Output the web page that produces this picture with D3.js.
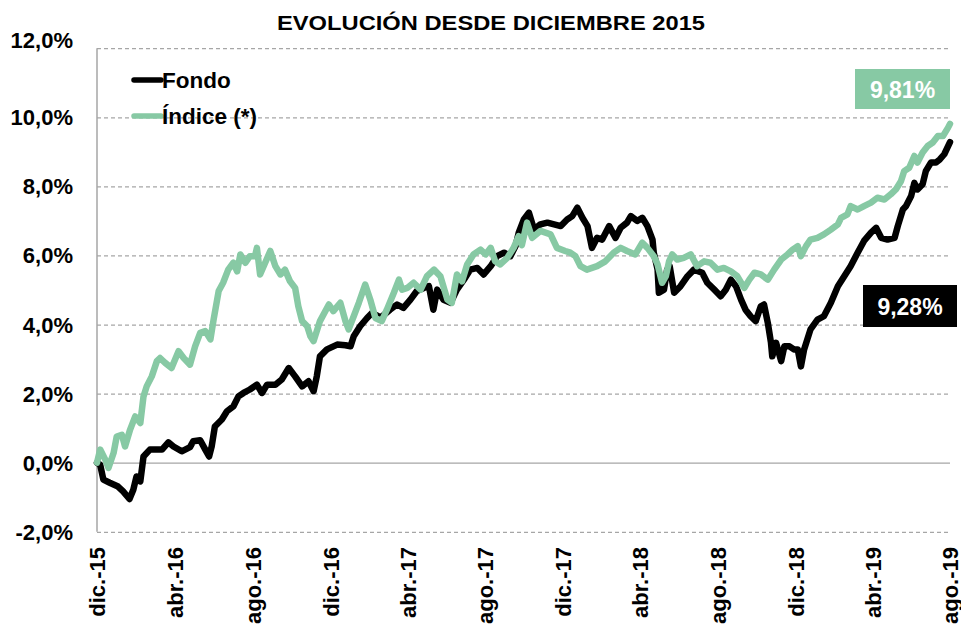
<!DOCTYPE html>
<html>
<head>
<meta charset="utf-8">
<script src="https://cdn.jsdelivr.net/npm/d3@7"></script>
<style>
  body { margin: 0; background: #fff; }
  text { font-family: Arial, "Liberation Sans", sans-serif; font-weight: bold; }
</style>
</head>
<body>
<script>
//series start date, every point is a day offset from here
const startDate = new Date(2015, 11, 1)
const endDate = new Date(2019, 7, 1)

//Fondo (black line)
const fondoDays = [0,5,10,20,33,41,51,57,62,68,73,83,94,102,112,120,133,146,151,162,170,176,180,185,196,204,214,222,230,240,251,259,267,280,290,301,311,322,332,340,345,350,361,377,390,398,403,413,424,432,445,460,471,481,492,502,513,521,528,534,544,555,565,576,586,597,607,618,628,639,649,657,662,670,678,686,696,707,728,738,746,754,762,770,777,785,793,804,814,822,832,838,848,856,864,872,874,880,882,890,895,899,906,916,927,937,950,958,969,979,987,995,1003,1011,1018,1026,1034,1042,1047,1053,1058,1060,1066,1074,1079,1087,1094,1100,1105,1110,1120,1131,1141,1152,1163,1173,1183,1194,1204,1215,1223,1231,1241,1252,1257,1265,1270,1278,1283,1288,1296,1301,1309,1317,1323,1330,1339]
const fondoValues = [0,-0.06,-0.49,-0.58,-0.69,-0.83,-1.05,-0.78,-0.40,-0.54,0.18,0.38,0.38,0.38,0.59,0.47,0.33,0.45,0.62,0.65,0.38,0.18,0.47,1.05,1.25,1.49,1.63,1.92,2.02,2.12,2.26,2.02,2.26,2.26,2.41,2.74,2.50,2.21,2.36,2.07,2.50,3.08,3.28,3.42,3.40,3.37,3.66,3.95,4.19,4.34,4.20,4.43,4.58,4.48,4.72,4.97,5.06,5.11,4.43,5.01,4.72,4.63,5.01,5.30,5.59,5.64,5.45,5.69,5.98,6.08,5.98,6.27,6.66,7.04,7.24,6.75,6.90,6.95,6.85,7.04,7.14,7.38,7.09,6.85,6.22,6.51,6.46,6.85,6.51,6.80,6.95,7.14,7.00,7.09,6.85,6.46,6.08,5.59,4.92,5.01,5.59,5.69,4.92,5.11,5.40,5.59,5.50,5.21,5.01,4.82,5.01,5.30,5.11,4.72,4.43,4.24,4.10,4.53,4.58,4.05,3.47,3.08,3.47,2.94,3.37,3.37,3.28,3.28,2.79,3.28,3.86,4.14,4.24,4.63,5.11,5.40,5.69,6.08,6.42,6.66,6.80,6.51,6.46,6.51,6.85,7.33,7.43,7.72,8.10,7.91,8.06,8.44,8.69,8.69,8.78,8.93,9.28]

//Indice (green line)
const indiceDays = [0,5,13,18,26,31,39,44,52,60,68,73,78,86,94,99,107,117,128,136,146,154,162,170,178,183,191,198,206,214,220,225,233,240,248,251,256,264,272,280,288,295,303,311,316,322,330,335,340,350,364,371,382,390,395,403,411,421,429,437,447,455,466,474,479,487,497,508,518,529,539,550,557,565,573,581,591,602,610,618,625,633,644,654,662,667,675,683,696,712,722,735,743,751,759,769,785,798,811,822,832,845,856,864,874,880,887,893,898,903,911,921,932,942,953,963,974,984,995,1005,1016,1024,1032,1042,1053,1063,1074,1084,1092,1100,1105,1113,1120,1131,1141,1152,1163,1168,1178,1183,1194,1204,1215,1225,1236,1246,1254,1262,1267,1275,1283,1288,1296,1304,1312,1320,1328,1336,1339]
const indiceValues = [0,0.38,0.09,-0.15,0.28,0.76,0.81,0.47,0.96,1.34,1.15,1.92,2.21,2.50,2.94,3.03,2.89,2.74,3.23,3.03,2.84,3.37,3.76,3.81,3.57,4.14,4.97,5.21,5.59,5.79,5.54,6.03,5.79,5.98,5.98,6.22,5.45,5.79,6.13,5.69,5.45,5.59,5.25,5.06,4.53,4.10,3.95,3.66,3.52,4.10,4.58,4.39,4.63,4.10,3.86,4.24,4.63,5.16,4.72,4.19,4.10,4.43,4.92,5.30,5.01,5.06,5.21,5.01,5.40,5.59,5.40,4.72,4.63,5.45,5.25,5.74,6.03,6.17,6.03,6.22,5.83,5.74,5.93,6.22,6.56,6.30,6.95,6.51,6.71,6.61,6.22,6.13,6.08,5.98,5.69,5.59,5.69,5.83,6.08,6.22,6.13,6.03,6.37,6.22,5.98,5.74,5.21,5.40,5.83,6.03,5.88,5.93,6.03,5.69,5.83,5.79,5.59,5.64,5.54,5.40,5.06,5.30,5.50,5.45,5.30,5.59,5.88,6.03,6.17,6.27,5.98,6.27,6.46,6.51,6.61,6.75,6.90,7.09,7.19,7.43,7.33,7.43,7.53,7.67,7.62,7.77,7.91,8.15,8.44,8.54,8.88,8.69,8.98,9.17,9.27,9.46,9.46,9.70,9.81]

//axis ticks
const yTicks = [-2, 0, 2, 4, 6, 8, 10, 12]
const xTickDates = ['2015-12-01','2016-04-01','2016-08-01','2016-12-01','2017-04-01','2017-08-01','2017-12-01','2018-04-01','2018-08-01','2018-12-01','2019-04-01','2019-08-01']
const xTickLabels = ['dic.-15','abr.-16','ago.-16','dic.-16','abr.-17','ago.-17','dic.-17','abr.-18','ago.-18','dic.-18','abr.-19','ago.-19']

const seriesNames = ['Fondo', 'Índice (*)']
const endLabels = ['9,28%', '9,81%']

const black = '#000000'
const green = '#87c9a4'
const grid = '#a6a6a6'

render()

function render() {
  const width = 961
  const height = 626

  const svg = d3.select('body')
    .append('svg')
    .attr('width', width)
    .attr('height', height)

  //plot area
  const left = 97, right = 950, top = 48.2, bottom = 531.8

  const xScale = d3.scaleTime()
    .domain([startDate, endDate])
    .range([left, right])

  const yScale = d3.scaleLinear()
    .domain([-2, 12])
    .range([bottom, top])

  const parse = d3.timeParse('%Y-%m-%d')

  //title
  svg.append('text')
    .text('EVOLUCIÓN DESDE DICIEMBRE 2015')
    .attr('x', 491)
    .attr('y', 30)
    .attr('text-anchor', 'middle')
    .attr('font-size', 20)
    .attr('textLength', 428)
    .attr('lengthAdjust', 'spacingAndGlyphs')

  //y axis with gridlines
  const yAxis = d3.axisLeft(yScale)
    .tickValues(yTicks)
    .tickSize(-(right - left))
    .tickPadding(24)
    .tickFormat(d => d.toFixed(1).replace('.', ',') + '%')

  const gy = svg.append('g')
    .attr('transform', `translate(${left},0)`)
    .call(yAxis)
  gy.select('.domain').remove()
  gy.selectAll('.tick line')
    .attr('stroke', grid)
    .attr('stroke-width', 1.3)
    .attr('stroke-dasharray', d => d === 0 ? null : '4,3')
  gy.selectAll('.tick text')
    .attr('font-size', 22)
    .attr('font-family', 'Arial, "Liberation Sans", sans-serif')
    .attr('fill', '#000')
    .attr('dy', d => d === 12 ? '-0.05em' : '0.34em')

  //left axis line
  svg.append('line')
    .attr('x1', left).attr('x2', left)
    .attr('y1', top).attr('y2', bottom)
    .attr('stroke', grid)
    .attr('stroke-width', 1.5)

  //x axis labels, rotated
  const xAxis = d3.axisBottom(xScale)
    .tickValues(xTickDates.map(parse))
    .tickSize(0)
    .tickFormat((d, i) => xTickLabels[i])

  const gx = svg.append('g')
    .attr('transform', `translate(0,547)`)
    .call(xAxis)
  gx.select('.domain').remove()
  gx.selectAll('.tick text')
    .attr('font-size', 22)
    .attr('font-family', 'Arial, "Liberation Sans", sans-serif')
    .attr('fill', '#000')
    .attr('text-anchor', 'end')
    .attr('x', 0)
    .attr('y', 0)
    .attr('dy', '0.36em')
    .attr('transform', 'rotate(-90)')

  //lines
  const toPoints = (days, values) => days.map((d, i) => ({
    date: d3.timeDay.offset(startDate, d),
    value: values[i]
  }))

  const line = d3.line()
    .x(d => xScale(d.date))
    .y(d => yScale(d.value))

  svg.append('path')
    .datum(toPoints(fondoDays, fondoValues))
    .attr('d', line)
    .attr('fill', 'none')
    .attr('stroke', black)
    .attr('stroke-width', 6.5)
    .attr('stroke-linejoin', 'round')
    .attr('stroke-linecap', 'round')

  svg.append('path')
    .datum(toPoints(indiceDays, indiceValues))
    .attr('d', line)
    .attr('fill', 'none')
    .attr('stroke', green)
    .attr('stroke-width', 6.5)
    .attr('stroke-linejoin', 'round')
    .attr('stroke-linecap', 'round')

  //legend
  const legend = svg.append('g')
  const legendY = [80, 116]
  const legendColors = [black, green]
  seriesNames.forEach((name, i) => {
    legend.append('line')
      .attr('x1', 134).attr('x2', 161)
      .attr('y1', legendY[i]).attr('y2', legendY[i])
      .attr('stroke', legendColors[i])
      .attr('stroke-width', 5.5)
      .attr('stroke-linecap', 'round')
    legend.append('text')
      .text(name)
      .attr('x', 162)
      .attr('y', legendY[i] + 8)
      .attr('font-size', 22.5)
  })

  //end value labels
  const boxes = [
    { x: 863, y: 285, w: 94, h: 42, fill: black },
    { x: 855, y: 69, w: 95, h: 40, fill: green }
  ]
  boxes.forEach((b, i) => {
    svg.append('rect')
      .attr('x', b.x).attr('y', b.y)
      .attr('width', b.w).attr('height', b.h)
      .attr('fill', b.fill)
    svg.append('text')
      .text(endLabels[i])
      .attr('x', b.x + b.w / 2)
      .attr('y', b.y + b.h / 2 + 8.5)
      .attr('text-anchor', 'middle')
      .attr('font-size', 23)
      .attr('fill', '#fff')
  })
}
</script>
</body>
</html>
